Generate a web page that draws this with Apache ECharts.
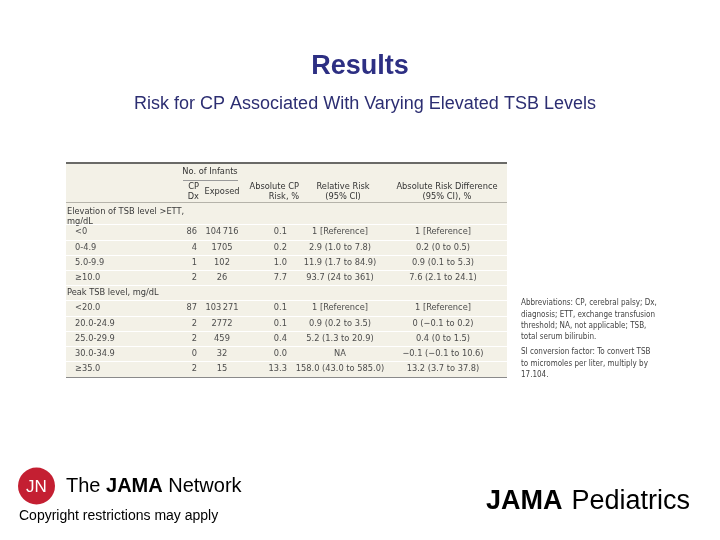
<!DOCTYPE html>
<html><head><meta charset="utf-8">
<script src="https://cdn.jsdelivr.net/npm/echarts@6/dist/echarts.min.js"></script>
<style>html,body{margin:0;padding:0;background:#fff}#c{width:720px;height:540px}</style>
</head><body><div id="c"></div>
<script>
// ---- data ----
const rowLabels = ['Elevation of TSB level >ETT,\nmg/dL', '<0', '0-4.9', '5.0-9.9', '≥10.0',
  'Peak TSB level, mg/dL', '<20.0', '20.0-24.9', '25.0-29.9', '30.0-34.9', '≥35.0'];
const cpDx = [null, 86, 4, 1, 2, null, 87, 2, 2, 0, 2];
const exposed = [null, 104716, 1705, 102, 26, null, 103271, 2772, 459, 32, 15];
const absRisk = [null, 0.1, 0.2, 1.0, 7.7, null, 0.1, 0.1, 0.4, 0.0, 13.3];
const relRisk = ['', '1 [Reference]', '2.9 (1.0 to 7.8)', '11.9 (1.7 to 84.9)', '93.7 (24 to 361)',
  '', '1 [Reference]', '0.9 (0.2 to 3.5)', '5.2 (1.3 to 20.9)', 'NA', '158.0 (43.0 to 585.0)'];
const absDiff = ['', '1 [Reference]', '0.2 (0 to 0.5)', '0.9 (0.1 to 5.3)', '7.6 (2.1 to 24.1)',
  '', '1 [Reference]', '0 (−0.1 to 0.2)', '0.4 (0 to 1.5)', '−0.1 (−0.1 to 10.6)', '13.2 (3.7 to 37.8)'];
const groupHeader = 'No. of Infants';
const colHeaders = ['CP\nDx', 'Exposed', 'Absolute CP\nRisk, %', 'Relative Risk\n(95% CI)', 'Absolute Risk Difference\n(95% CI), %'];
const footnotes = ['Abbreviations: CP, cerebral palsy; Dx,\ndiagnosis; ETT, exchange transfusion\nthreshold; NA, not applicable; TSB,\ntotal serum bilirubin.',
  'SI conversion factor: To convert TSB\nto micromoles per liter, multiply by\n17.104.'];
const titleText = 'Results';
const subtitleText = 'Risk for CP Associated With Varying Elevated TSB Levels';

// ---- layout ----
const TF = '"DejaVu Sans Condensed", "Liberation Sans Narrow", sans-serif';
const FS = 9.2;
const bodyColor = '#4d4d4d';
const headColor = '#3a3a3a';
const fmtInt = n => n >= 10000 ? String(n).replace(/(\d)(?=(\d{3})+$)/g, '$1\u2009') : String(n);

const chart = echarts.init(document.getElementById('c'));

function txt(x, y, text, align, opts) {
  return {type: 'text', style: Object.assign({
    x: x, y: y, text: text, align: align, verticalAlign: 'middle',
    font: FS + 'px ' + TF, fill: bodyColor, lineHeight: 9.8
  }, opts || {})};
}

function renderRow(params, api) {
  const r = api.value(0);
  const P = (cx, ry) => api.coord([cx, ry]);
  const y = P(0, r)[1];
  const isGroup = cpDx[r] === null;
  const ch = [];
  if (isGroup) {
    ch.push(txt(P(1, r)[0], y, rowLabels[r], 'left', {fill: headColor}));
  } else {
    ch.push(txt(P(9, r)[0], y, rowLabels[r], 'left'));
    ch.push(txt(P(131, r)[0], y, String(cpDx[r]), 'right'));
    ch.push(txt(P(156, r)[0], y, fmtInt(exposed[r]), 'center'));
    ch.push(txt(P(221, r)[0], y, absRisk[r].toFixed(1), 'right'));
    ch.push(txt(P(274, r)[0], y, relRisk[r], 'center'));
    ch.push(txt(P(377, r)[0], y, absDiff[r], 'center'));
  }
  if (r < rowLabels.length - 1) {
    const ly = Math.round(P(0, r + 0.5)[1]) + 0.5;
    ch.push({type: 'line', shape: {x1: P(0, r)[0], y1: ly, x2: P(441, r)[0], y2: ly},
      style: {stroke: '#ffffff', lineWidth: 1}});
  }
  return {type: 'group', children: ch};
}

function renderHeader(params, api) {
  const P = (cx, ry) => api.coord([cx, ry]);
  const ch = [];
  const top = Math.round(P(0, -3.6)[1]) + 1;
  ch.push({type: 'line', shape: {x1: P(0, 0)[0], y1: top, x2: P(441, 0)[0], y2: top}, style: {stroke: '#3c3c3c', lineWidth: 1.6}});
  const hb = Math.round(P(0, -0.97)[1]) + 0.5;
  ch.push({type: 'line', shape: {x1: P(0, 0)[0], y1: hb, x2: P(441, 0)[0], y2: hb}, style: {stroke: '#b5b3aa', lineWidth: 1}});
  const bot = Math.round(P(0, 10.6)[1]) - 0.5;
  ch.push({type: 'line', shape: {x1: P(0, 0)[0], y1: bot, x2: P(441, 0)[0], y2: bot}, style: {stroke: '#8a8a8a', lineWidth: 1}});
  const ul = Math.round(P(0, -2.42)[1]) + 0.5;
  ch.push({type: 'line', shape: {x1: P(117, 0)[0], y1: ul, x2: P(172, 0)[0], y2: ul}, style: {stroke: '#9a9a9a', lineWidth: 1}});
  const hf = {fill: '#333333'};
  ch.push(txt(P(144, 0)[0], P(0, -2.95)[1], groupHeader, 'center', hf));
  const hy = P(0, -1.64)[1];
  const hx = [[133, 'right'], [156, 'center'], [233, 'right'], [277, 'center'], [381, 'center']];
  colHeaders.forEach((h, i) => ch.push(txt(P(hx[i][0], 0)[0], hy, h, hx[i][1], hf)));
  return {type: 'group', children: ch};
}

chart.setOption({
  backgroundColor: '#ffffff',
  animation: false,
  grid: {left: 66, top: 162, width: 441, height: 216, show: true, backgroundColor: '#f3f1e7', borderWidth: 0},
  xAxis: {type: 'value', min: 0, max: 441, show: false},
  yAxis: {type: 'value', min: -3.6, max: 10.6, inverse: true, show: false},
  series: [
    {type: 'custom', renderItem: renderHeader, data: [[0]], silent: true, clip: false},
    {type: 'custom', renderItem: renderRow, data: rowLabels.map((_, i) => [i]), silent: true, clip: false}
  ],
  graphic: [
    {type: 'text', x: 360, y: 67, style: {text: titleText, align: 'center', verticalAlign: 'middle',
      font: 'bold 27px "Liberation Sans", Arial, sans-serif', fill: '#2d2f83'}},
    {type: 'text', x: 365, y: 104, style: {text: subtitleText, align: 'center', verticalAlign: 'middle',
      font: '18px "Liberation Sans", Arial, sans-serif', fill: '#2c2e72'}},
    {type: 'text', x: 521, y: 297.5, style: {text: footnotes[0], align: 'left', verticalAlign: 'top',
      font: '8px ' + TF, fill: '#444', lineHeight: 11.3}},
    {type: 'text', x: 521, y: 346.5, style: {text: footnotes[1], align: 'left', verticalAlign: 'top',
      font: '8px ' + TF, fill: '#444', lineHeight: 11.3}},
    {type: 'circle', shape: {cx: 36.5, cy: 486, r: 18.5}, style: {fill: '#c41f32'}},
    {type: 'text', x: 36.5, y: 487, style: {text: 'JN', align: 'center', verticalAlign: 'middle',
      font: '17px "Liberation Sans", Arial, sans-serif', fill: '#ffffff'}},
    {type: 'text', x: 66, y: 486, style: {text: '{a|The }{b|JAMA}{a| Network}', align: 'left', verticalAlign: 'middle',
      rich: {a: {fontSize: 20, fontFamily: '"Liberation Sans", Arial, sans-serif', color: '#2a2a2a'},
             b: {fontSize: 20, fontWeight: 'bold', fontFamily: '"Liberation Sans", Arial, sans-serif', color: '#2a2a2a'}}}},
    {type: 'text', x: 19, y: 516, style: {text: 'Copyright restrictions may apply', align: 'left', verticalAlign: 'middle',
      font: '14px "Liberation Sans", Arial, sans-serif', fill: '#000'}},
    {type: 'text', x: 486, y: 502, style: {text: '{b|JAMA}{s| }{p|Pediatrics}', align: 'left', verticalAlign: 'middle',
      rich: {b: {fontSize: 27, fontWeight: 'bold', fontFamily: '"Liberation Sans", Arial, sans-serif', color: '#1c1c1c'},
             s: {fontSize: 27, width: 9},
             p: {fontSize: 27, fontFamily: '"Liberation Sans", Arial, sans-serif', color: '#4b88b5'}}}}
  ]
});
</script>
</body></html>
